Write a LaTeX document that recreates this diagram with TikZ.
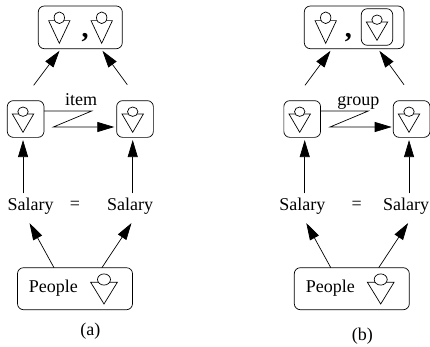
\documentclass[tikz,border=0pt]{standalone}
\usepackage{fontspec}
\setmainfont{Liberation Serif}
\usetikzlibrary{arrows.meta}
\tikzset{
  box/.style={draw,rounded corners=6pt,inner sep=0pt,outer sep=0pt},
  smallbox/.style={box,minimum width=36.7pt,minimum height=36.7pt},
  peoplebox/.style={box,minimum width=115pt,minimum height=42pt},
  lab/.style={inner sep=0pt,font=\fontsize{18}{20}\selectfont},
  salary/.style={lab,outer ysep=9pt},
  commalab/.style={inner sep=0pt,anchor=base,font=\fontsize{28}{29}\selectfont\bfseries},
  arr/.style={-{Triangle[length=17pt,width=10pt]}},
  toparr/.style={arr,shorten >=2.6pt},
  uparr/.style={arr,shorten >=2.7pt,shorten <=-4.7pt},
  pics/person/.style={code={
    \draw (-10.7,-18.3) -- (10.7,-18.3) -- (0,0) -- cycle;
    \draw[fill=white] (0,-20.6) ellipse [x radius=5.2,y radius=4.7];
  }}
}
\begin{document}
\begin{tikzpicture}[x=1pt,y=-1pt,line width=0.7pt]
        \useasboundingbox (0,0) rectangle (430,346);
        \coordinate (fa1) at (33.7,85.3);
        \coordinate (fa2) at (127.3,84.7);
        \coordinate (fb1) at (305,85.3);
        \coordinate (fb2) at (404,84.7);

        \coordinate (za1) at (44,111);
        \coordinate (za2) at (91.7,111);
        \coordinate (za3) at (53.3,127);
        \coordinate (za4) at (116.3,127);
        \coordinate (zb1) at (320.7,111);
        \coordinate (zb2) at (368.3,111);
        \coordinate (zb3) at (330,127);
        \coordinate (zb4) at (393.7,127);

        \node[box,minimum width=84pt,minimum height=42.7pt] (topa) at (80.3,27.35){};
        \node[box,minimum width=99.7pt,minimum height=42.7pt] (topb) at (354.15,27.35){};
        \node[box,minimum width=31.4pt,minimum height=36.6pt] (innerb) at (377,27){};
        \node[smallbox] (a1) at (25.65,119){};
        \node[smallbox] (a2) at (135,119){};
        \node[smallbox] (b1) at (302.2,119){};
        \node[smallbox] (b2) at (411.6,119){};
        \node[peoplebox] (pa) at (75,288.7){};
        \node[peoplebox] (pb) at (351.8,288.7){};

        \node[commalab] (ca) at (85,37.5) {,};
        \node[commalab] (cb) at (348.3,37.5) {,};
        \node[lab,anchor=base] (itema) at (81,105.7) {item};
        \node[lab,anchor=base] (groupb) at (358.3,105.7) {group};
        \node[salary,anchor=center] (sa1) at (30.7,205.85) {Salary};
        \node[salary,anchor=center] (sa2) at (130,205.85) {Salary};
        \node[salary,anchor=center] (sb1) at (302.3,205.85) {Salary};
        \node[salary,anchor=center] (sb2) at (406,205.85) {Salary};
        \node[lab] (eqa) at (75,205) {=};
        \node[lab] (eqb) at (356.7,205) {=};
        \node[lab] (pla) at (53.3,288) {People};
        \node[lab] (plb) at (330.3,288) {People};
        \node[lab] (capa) at (90.3,330.7) {(a)};
        \node[lab] (capb) at (362.3,335.7) {(b)};

        \pic[yscale=1.24] at (59.3,43.3) {person};
        \pic[yscale=1.24] at (101.7,43.3) {person};
        \pic[yscale=1.24] at (325.7,43.3) {person};
        \pic at (377,40.3) {person};
        \pic at (23,132.3) {person};
        \pic at (132.7,132.3) {person};
        \pic at (299.7,132.3) {person};
        \pic at (409,132.3) {person};
        \pic[xscale=1.25,yscale=1.19] at (104,304) {person};
        \pic[xscale=1.25,yscale=1.19] at (380.7,304) {person};

        \draw[toparr] (fa1) -- (topa.-132.8);
        \draw[toparr] (fa2) -- (topa.-46.2);
        \draw[toparr] (fb1) -- (topb.-136.3);
        \draw[toparr] (fb2) -- (topb.-42.4);
        \draw[arr,shorten >=2pt] (za1) -- (za2) -- (za3) -- (za4);
        \draw[arr,shorten >=2pt] (zb1) -- (zb2) -- (zb3) -- (zb4);
        \draw[uparr] (sa1.114) -- (sa1.114 |- a1.south);
        \draw[uparr] (sa2.81) -- (sa2.81 |- a2.south);
        \draw[uparr] (sb1.82) -- (sb1.82 |- b1.south);
        \draw[uparr] (sb2.80) -- (sb2.80 |- b2.south);
        \draw[arr] (pa.135.4) -- (sa1.-94.7);
        \draw[arr] (pa.38.6) -- (sa2.-85.7);
        \draw[arr] (pb.135.1) -- (sb1.-77.8);
        \draw[arr] (pb.38.4) -- (sb2.-83.3);
    \end{tikzpicture}
\end{document}
